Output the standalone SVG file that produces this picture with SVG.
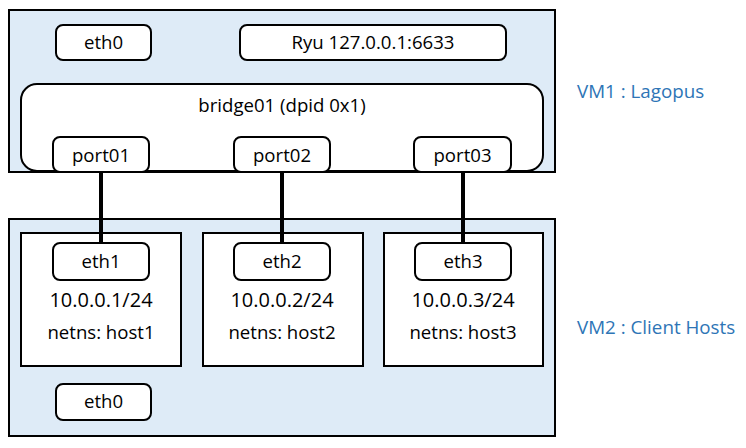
<svg xmlns="http://www.w3.org/2000/svg" width="746" height="448" viewBox="0 0 746 448">
<style>
.vm{fill:#DEEBF7;stroke:#000;stroke-width:2}
.box{fill:#fff;stroke:#000;stroke-width:2}
.t{font-family:"Open Sans","Liberation Sans",sans-serif;font-size:18.6px;fill:#000;text-anchor:middle}
.ip{font-size:20px}
.lbl{font-family:"Open Sans","Liberation Sans",sans-serif;font-size:18.8px;fill:#2E75B6}
.link{stroke:#000;stroke-width:4;fill:none}
</style>
<rect width="746" height="448" fill="#fff"/>
<g id="vm1">
<rect class="vm" x="9" y="10" width="546" height="162"/>
</g>
<g id="vm2">
<rect class="vm" x="9" y="219" width="546" height="217"/>
</g>
<g id="vm1-eth0"><rect class="box" x="56" y="25" width="95" height="35" rx="7"/><text class="t" x="103.5" y="49">eth0</text></g>
<g id="ryu"><rect class="box" x="240" y="25" width="266" height="35" rx="7"/><text class="t" x="373" y="49">Ryu 127.0.0.1:6633</text></g>
<g id="bridge01"><rect class="box" x="21" y="84" width="522" height="87" rx="16"/><text class="t" x="282" y="112">bridge01 (dpid 0x1)</text></g>
<g id="port01"><rect class="box" x="53" y="137" width="96" height="35" rx="7"/><text class="t" x="101" y="162">port01</text></g>
<g id="port02"><rect class="box" x="234" y="137" width="96" height="35" rx="7"/><text class="t" x="282" y="162">port02</text></g>
<g id="port03"><rect class="box" x="414" y="137" width="97" height="35" rx="7"/><text class="t" x="462.5" y="162">port03</text></g>
<g id="vm1-border"><rect x="9" y="10" width="546" height="162" fill="none" stroke="#000" stroke-width="2"/></g>
<g id="host1"><rect class="box" x="21" y="233" width="160" height="133"/>
<rect class="box" x="53" y="243" width="96" height="37" rx="7"/><text class="t" x="101" y="268">eth1</text>
<text class="t ip" x="101" y="307">10.0.0.1/24</text><text class="t" x="101" y="339">netns: host1</text></g>
<g id="host2"><rect class="box" x="203" y="233" width="160" height="133"/>
<rect class="box" x="234" y="243" width="96" height="37" rx="7"/><text class="t" x="282" y="268">eth2</text>
<text class="t ip" x="282" y="307">10.0.0.2/24</text><text class="t" x="282" y="339">netns: host2</text></g>
<g id="host3"><rect class="box" x="384" y="233" width="159" height="133"/>
<rect class="box" x="415" y="243" width="96" height="37" rx="7"/><text class="t" x="463" y="268">eth3</text>
<text class="t ip" x="463" y="307">10.0.0.3/24</text><text class="t" x="463" y="339">netns: host3</text></g>
<g id="vm2-eth0"><rect class="box" x="56" y="384" width="95" height="36" rx="7"/><text class="t" x="103.5" y="408">eth0</text></g>
<g id="connectors">
<line class="link" x1="101" y1="172" x2="101" y2="243"/>
<line class="link" x1="282" y1="172" x2="282" y2="243"/>
<line class="link" x1="463" y1="172" x2="463" y2="243"/>
</g>
<g id="labels">
<text class="lbl" x="577" y="98">VM1 : Lagopus</text>
<text class="lbl" x="577" y="334">VM2 : Client Hosts</text>
</g>
</svg>
